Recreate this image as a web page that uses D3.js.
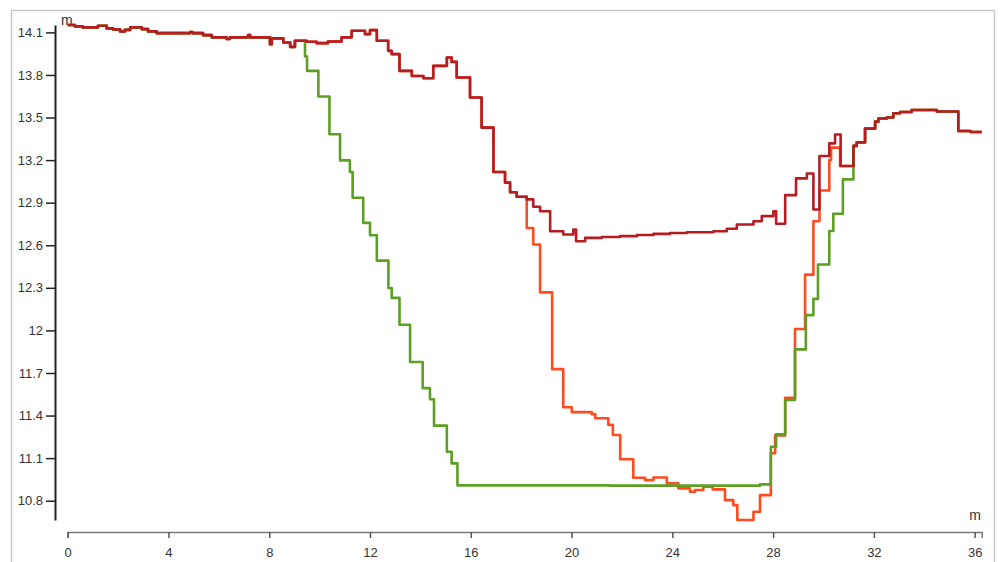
<!DOCTYPE html>
<html>
<head>
<meta charset="utf-8">
<script src="https://cdn.jsdelivr.net/npm/d3@7"></script>
<style>
  html, body { margin: 0; padding: 0; background: #fff; }
  svg { display: block; font-family: "Liberation Sans", Arial, sans-serif; }
</style>
</head>
<body>
<svg id="chart" width="1003" height="562"></svg>
<script>
// ---- data (distance in m, elevation in m) ----
// shared by all three profiles at the start
const sharedStart = [
  [0, 14.152], [0.29, 14.142], [0.6, 14.135], [1.2, 14.147], [1.55, 14.128], [1.8, 14.121],
  [2.08, 14.107], [2.27, 14.118], [2.48, 14.135], [2.94, 14.123], [3.19, 14.107], [3.53, 14.095],
  [4.86, 14.102], [4.95, 14.095], [5.37, 14.081], [5.72, 14.065], [6.31, 14.053], [6.44, 14.065],
  [7.16, 14.081], [7.24, 14.065], [8.03, 14.017], [8.1, 14.058], [8.56, 14.029], [8.83, 13.998],
  [9.02, 14.041]
];
// shared by the red and orange profiles
const sharedUpper = [
  [9.49, 14.034], [9.88, 14.024], [10.33, 14.036], [10.87, 14.065], [11.27, 14.111], [11.8, 14.088],
  [12.0, 14.116], [12.27, 14.041], [12.72, 13.97], [12.86, 13.947], [13.17, 13.829], [13.66, 13.793],
  [14.12, 13.777], [14.51, 13.864], [15.05, 13.923], [15.24, 13.892], [15.44, 13.782], [15.97, 13.641],
  [16.43, 13.429], [16.9, 13.116], [17.36, 13.041], [17.56, 12.974], [17.82, 12.942]
];
const redLow = [
  [18.22, 12.923], [18.48, 12.871], [18.75, 12.84], [19.15, 12.699], [19.67, 12.676], [20.07, 12.711],
  [20.18, 12.628], [20.54, 12.652], [21.2, 12.658], [21.93, 12.664], [22.6, 12.672], [23.25, 12.68],
  [23.9, 12.686], [24.57, 12.692], [25.63, 12.699], [26.16, 12.716], [26.56, 12.746], [27.22, 12.769],
  [27.55, 12.805], [28.01, 12.84], [28.12, 12.751], [28.48, 12.953], [28.91, 13.071], [29.34, 13.106],
  [29.6, 12.852], [29.84, 13.229], [30.23, 13.318], [30.46, 13.38], [30.68, 13.158]
];
const orangeLow = [
  [18.22, 12.722], [18.48, 12.605], [18.75, 12.268], [19.23, 11.727], [19.67, 11.459], [20.01, 11.424],
  [20.8, 11.41], [20.94, 11.381], [21.46, 11.334], [21.64, 11.263], [21.93, 11.092], [22.45, 10.962],
  [22.92, 10.945], [23.25, 10.964], [23.78, 10.922], [24.24, 10.887], [24.7, 10.863], [24.9, 10.875],
  [25.23, 10.898], [25.6, 10.88], [26.09, 10.804], [26.42, 10.769], [26.58, 10.664], [27.22, 10.722],
  [27.48, 10.839], [27.91, 11.134], [28.08, 11.26], [28.48, 11.525], [28.87, 12.01], [29.27, 12.393],
  [29.6, 12.769], [29.84, 12.986], [30.23, 13.2], [30.3, 13.288], [30.66, 13.158]
];
const greenLow = [
  [9.42, 13.93], [9.5, 13.829], [9.95, 13.648], [10.39, 13.382], [10.81, 13.198], [11.2, 13.116],
  [11.31, 12.935], [11.73, 12.758], [12.0, 12.671], [12.27, 12.492], [12.73, 12.299], [12.86, 12.229],
  [13.17, 12.04], [13.59, 11.777], [14.09, 11.593], [14.38, 11.515], [14.54, 11.329], [15.05, 11.145],
  [15.24, 11.063], [15.47, 10.908], [21.5, 10.906], [27.48, 10.915], [27.91, 11.18], [28.12, 11.268],
  [28.48, 11.51], [28.87, 11.866], [29.3, 12.108], [29.6, 12.222], [29.78, 12.464], [30.23, 12.7],
  [30.39, 12.822], [30.77, 13.064]
];
// shared by all three profiles at the end
const sharedEnd = [
  [31.19, 13.30], [31.32, 13.325], [31.65, 13.422], [32.05, 13.471], [32.18, 13.493], [32.51, 13.5],
  [32.77, 13.53], [33.04, 13.539], [33.5, 13.553], [34.5, 13.542], [35.35, 13.405], [35.84, 13.398],
  [36.28, 13.398]
];

const seriesNames = ["orange", "green", "red"];
const seriesColors = ["#ff4b1f", "#5c9f24", "#b51d22"];
const seriesParts = [
  [sharedStart, sharedUpper, orangeLow, sharedEnd],
  [sharedStart, greenLow, sharedEnd],
  [sharedStart, sharedUpper, redLow, sharedEnd]
];

const xTicks = [0, 4, 8, 12, 16, 20, 24, 28, 32, 36];
const yTicks = [10.8, 11.1, 11.4, 11.7, 12, 12.3, 12.6, 12.9, 13.2, 13.5, 13.8, 14.1];
const xUnit = "m";
const yUnit = "m";

// ---- drawing ----
const svg = d3.select("#chart");
const series = seriesParts.map(parts => parts.flat());
const allPts = series.flat();

const x = d3.scaleLinear().domain(d3.extent(allPts, d => d[0])).range([67.7, 981.7]);
const y = d3.scaleLinear().domain(d3.extent(allPts, d => d[1])).range([520, 25]);

// frame
svg.append("rect")
  .attr("x", 11.5).attr("y", 10.5).attr("width", 983).attr("height", 570)
  .attr("fill", "none").attr("stroke", "#c8c8c8").attr("stroke-width", 1.5);

const fmt = d3.format("~f");

// y axis
const gy = svg.append("g").attr("transform", "translate(55,0)")
  .call(d3.axisLeft(y).tickValues(yTicks).tickFormat(d => fmt(+d.toFixed(1))).tickSize(9).tickSizeOuter(0).tickPadding(3));
gy.select(".domain").attr("stroke", "#222").attr("stroke-width", 2);
gy.selectAll(".tick line").attr("stroke", "#222").attr("stroke-width", 1.5);
gy.selectAll(".tick text").attr("fill", "#333").style("font-size", "13px");

// x axis
const gx = svg.append("g").attr("transform", "translate(0,532)")
  .call(d3.axisBottom(x).tickValues(xTicks).tickSize(6).tickSizeOuter(6).tickPadding(10));
gx.select(".domain").attr("stroke", "#777").attr("stroke-width", 1.5);
gx.selectAll(".tick line").attr("stroke", "#555").attr("stroke-width", 1.5);
gx.selectAll(".tick text").attr("fill", "#333").style("font-size", "13px");

// unit labels
svg.append("text").attr("x", 61).attr("y", 25).attr("fill", "#333")
  .style("font-size", "14px").text(yUnit);
svg.append("text").attr("x", 981).attr("y", 520).attr("text-anchor", "end").attr("fill", "#333")
  .style("font-size", "14px").text(xUnit);

// lines
const line = d3.line().x(d => x(d[0])).y(d => y(d[1])).curve(d3.curveStepAfter);
svg.append("g").selectAll("path").data(series).join("path")
  .attr("d", line)
  .attr("fill", "none")
  .attr("stroke", (d, i) => seriesColors[i])
  .attr("stroke-width", 2.6)
  .attr("stroke-linejoin", "round");
</script>
</body>
</html>
